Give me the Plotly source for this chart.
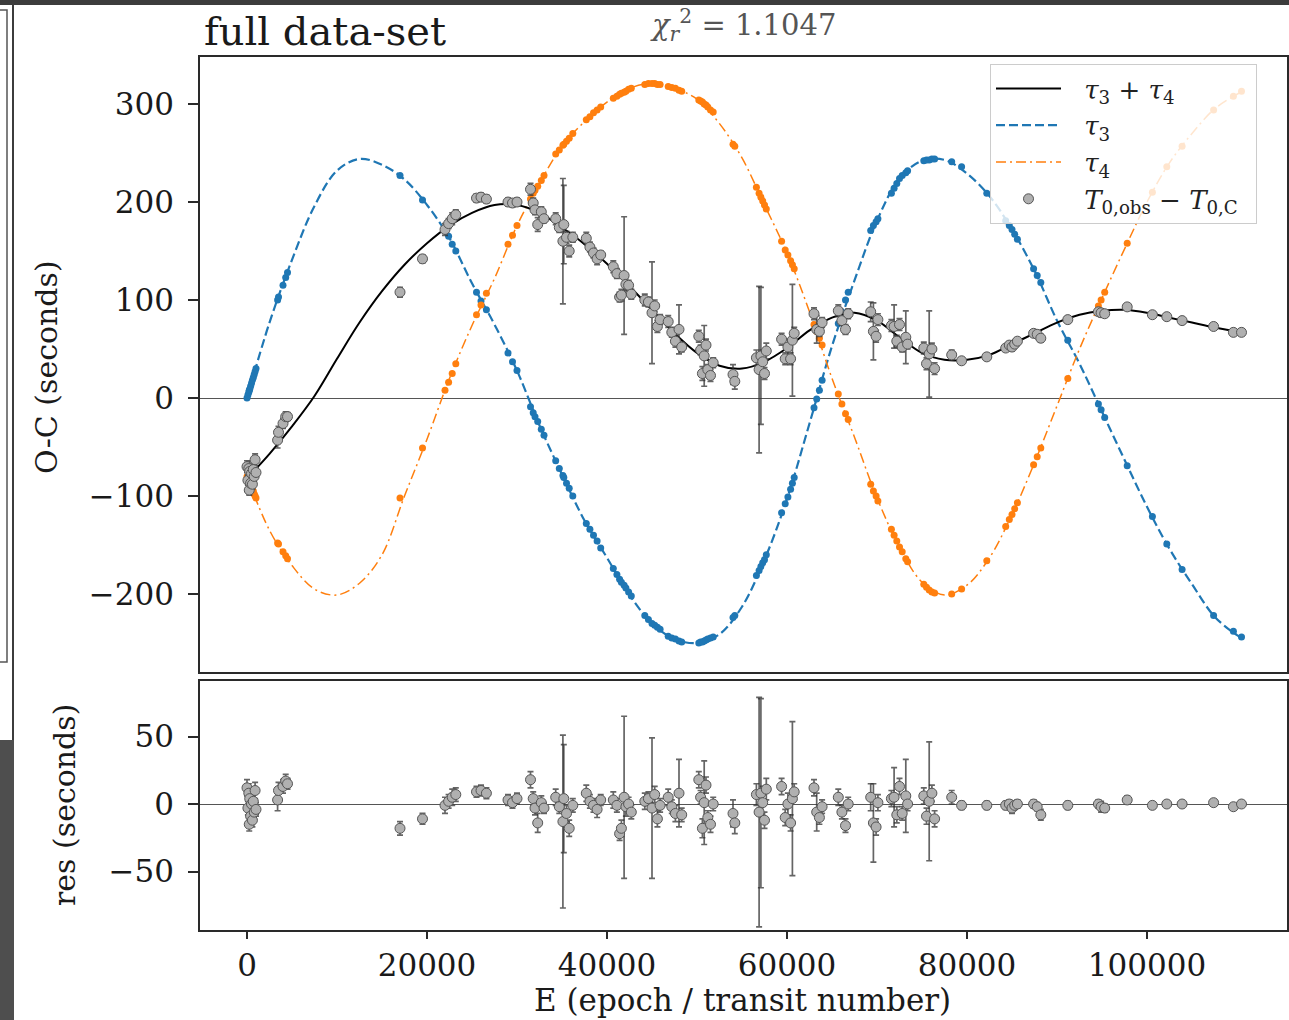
import plotly.graph_objects as go

# ---------------- data ----------------
grid_E = [0, 2500, 5000, 7500, 10000, 12500, 15000, 17500, 20000, 22500, 25000, 27500,
          30000, 32500, 35000, 37500, 40000, 42500, 45000, 47500, 50000, 52500, 55000,
          57500, 60000, 62500, 65000, 67500, 70000, 72500, 75000, 77500, 80000, 82500,
          85000, 87500, 90000, 92500, 95000, 97500, 100000, 102500, 105000, 107500,
          110000, 110800]
tau3_curve = [0, 77, 141, 196, 232, 244, 238, 223, 197, 163, 117, 75,
              28, -28, -78, -125, -163, -201, -230, -246, -250, -241, -213,
              -165, -103, -26, 53, 120, 181, 224, 242, 243, 229, 206,
              172, 130, 79, 35, -14, -63, -111, -154, -190, -223,
              -242, -246]
tau4_curve = [-80, -135, -171, -195, -201, -189, -160, -100, -42, 20, 74, 122,
              176, 219, 257, 282, 302, 316, 321, 316, 305, 280, 245,
              197, 148, 88, 20, -40, -102, -152, -188, -201, -191, -163,
              -119, -66, -8, 50, 102, 152, 200, 240, 270, 295,
              310, 314]
sum_curve = [-82, -57, -29, 2, 40, 77, 109, 136, 158, 176, 189, 197,
             197, 189, 174, 157, 137, 114, 90, 66, 46, 33, 30,
             37, 51, 69, 82, 87, 79, 62, 46, 39, 39, 44,
             55, 66, 77, 85, 89, 90, 87, 82, 77, 72,
             68, 67]

obs_E = [0, 100, 200, 250, 300, 400, 500, 600, 700, 800, 900, 1000,
         3400, 3500, 4000, 4300, 4500, 17000, 19500,
         22000, 22400, 22800, 23200, 25500, 26000, 26600, 29000, 29500, 30000,
         31500, 31800, 32000, 32300, 32700, 33000,
         34300, 34700, 35100, 35200, 35500, 35800, 36200,
         37700, 38100, 38500, 38900, 39300,
         40700, 41100, 41400, 41600, 41900, 42100, 42400, 42700,
         44200, 44600, 45000, 45300, 45600, 45900,
         46800, 47200, 47600, 48000, 48300,
         50200, 50400, 50600, 50800, 51000, 51200, 51500, 51800,
         54000, 54200,
         56600, 56900, 57100, 57300, 57500, 57700,
         59400, 59800, 60100, 60400, 60600, 60800,
         63000, 63300, 63600, 63900,
         65700, 66100, 66500, 66800,
         69300, 69600, 69900, 70100,
         71600, 71900, 72200, 72500, 72800, 73200, 73400,
         75200, 75500, 75800, 76100, 76400,
         78300, 79400, 82200, 84300, 84700, 85000, 85300, 85600,
         87400, 87800, 88200, 91200, 94600, 94900, 95300, 97800,
         100600, 102200, 103900, 107400, 109600, 110500]
obs_oc = [-70, -84, -72, -94, -75, -87, -77, -88, -73, -80, -63, -76,
          -43, -35, -26, -19, -19, 108, 142,
          172, 178, 183, 187, 204, 205, 203, 200, 199, 200,
          213, 199, 192, 177, 190, 183,
          183, 174, 160, 177, 164, 150, 164,
          163, 154, 148, 142, 146,
          134, 127, 103, 105, 125, 116, 115, 106,
          100, 98, 87, 94, 73, 80,
          78, 67, 58, 70, 52,
          63, 49, 25, 43, 54, 29, 23, 36,
          24, 17,
          41, 29, 43, 37, 25, 48,
          60, 40, 52, 40, 59, 66,
          86, 70, 68, 77,
          89, 79, 70, 86,
          88, 68, 63, 80,
          74, 73, 58, 75, 52, 62, 55,
          51, 35, 45, 50, 30,
          44, 38, 42, 51, 54, 52, 55, 58,
          66, 65, 61, 80, 88, 87, 86, 93,
          85, 83, 79, 73, 67, 67]
obs_err = [6, 5, 7, 5, 6, 5, 8, 5, 6, 5, 6, 5,
           8, 6, 5, 5, 4, 5, 4,
           6, 5, 6, 5, 4, 4, 4, 4, 4, 4,
           6, 5, 5, 7, 5, 4,
           6, 5, 64, 40, 6, 6, 5,
           6, 5, 5, 6, 4,
           6, 5, 5, 6, 60, 7, 5, 5,
           6, 5, 52, 6, 6, 5,
           6, 5, 6, 25, 5,
           6, 5, 7, 31, 6, 5, 6, 5,
           10, 8,
           8, 85, 70, 12, 6, 8,
           6, 6, 8, 6, 57, 6,
           6, 14, 5, 5,
           6, 5, 5, 5,
           10, 29, 6, 6,
           6, 22, 6, 6, 5, 27, 5,
           6, 6, 44, 6, 6,
           5, 3, 3, 3, 3, 4, 3, 3,
           3, 3, 4, 3, 3, 4, 3, 3,
           2, 2, 2, 2, 2, 2]
obs_res = [12, -3, 8, -15, 4, -9, 0, -12, 2, -6, 10, -4,
           3, 10, 13, 17, 15, -18, -11,
           -1, 2, 5, 7, 9, 10, 8, 3, 1, 4,
           18, 4, -3, -14, 1, -3,
           5, -2, -13, 4, -7, -18, -1,
           8, 2, -1, -4, 3,
           3, -1, -22, -18, 5, -2, 0, -6,
           2, 4, -3, 7, -11, -1,
           5, -2, -7, 8, -8,
           18, 5, -18, 1, 14, -10, -15, 0,
           -7, -14,
           7, -6, 8, 1, -12, 11,
           13, -10, 0, -14, 4, 9,
           12, -6, -10, -2,
           5, -6, -16, 0,
           5, -14, -17, 1,
           4, 5, -8, 13, -7, 6, 0,
           6, -9, 2, 8, -11,
           5, -1, -1, -1, 0, -3, -1, 0,
           0, -2, -8, -1, 0, -2, -3, 3,
           -1, 0, 0, 1, -2, 0]
tau3_obs = [0, 3, 6, 8, 9, 12, 15, 18, 21, 24, 27, 30,
            100, 103, 115, 123, 128, 227, 202,
            172, 165, 157, 150, 108, 99, 90, 46, 37, 28,
            -9, -15, -19, -24, -32, -38,
            -64, -72, -79, -81, -87, -92, -100,
            -128, -134, -140, -146, -153,
            -174, -180, -185, -188, -191, -194, -198, -202,
            -222, -226, -230, -232, -234, -236,
            -243, -245, -246, -248, -249,
            -250, -249, -249, -248, -247, -246, -245, -244,
            -224, -222,
            -181, -176, -172, -168, -165, -160,
            -117, -108, -101, -93, -87, -81,
            -10, -1, 8, 18,
            76, 88, 100, 108,
            171, 176, 180, 183,
            209, 214, 219, 224, 227, 230, 232,
            242, 243, 243, 244, 244,
            241, 236, 209, 181, 176, 172, 167, 162,
            132, 125, 118, 59, -6, -12, -20, -69,
            -121, -149, -175, -222, -238, -244]
tau4_obs = [-80, -82, -84, -86, -87, -89, -91, -93, -95, -98, -100, -102,
            -148, -149, -157, -161, -164, -102, -51,
            8, 16, 25, 35, 85, 95, 107, 157, 166, 176,
            203, 209, 212, 216, 222, 227,
            249, 253, 258, 259, 262, 265, 270,
            284, 287, 291, 294, 297,
            306, 308, 310, 311, 312, 313, 315, 316,
            320, 321, 321, 321, 320, 320,
            318, 317, 316, 314, 313,
            304, 303, 302, 300, 299, 297, 294, 292,
            259, 257,
            215, 209, 205, 201, 197, 193,
            160, 151, 146, 140, 136, 132,
            75, 68, 61, 54,
            4, -6, -16, -22,
            -88, -95, -100, -105,
            -134, -140, -146, -152, -157, -164, -167,
            -190, -193, -196, -198, -199,
            -200, -195, -166, -131, -124, -119, -113, -107,
            -68, -60, -51, 20, 94, 100, 108, 158,
            210, 236, 257, 294, 308, 313]

x_ticks = [0, 20000, 40000, 60000, 80000, 100000]
y_ticks_top = [-200, -100, 0, 100, 200, 300]
y_ticks_bot = [-50, 0, 50]

# ---------------- styling / layout ----------------
W, H = 1289, 1020
FONT = "DejaVu Serif"
BLUE = "#1f77b4"
ORANGE = "#ff7f0e"
SPINE = "#2a2a2a"
GAP = "\u2002\u2009"   # extra gap between legend sample and its text


def px(x):
    return x / W


def py(y):
    return 1 - y / H


x_left, x_right = 200, 1287
E0_px, E_scale = 247, 0.009
x_range = [(x_left - E0_px) / E_scale, (x_right - E0_px) / E_scale]

fig = go.Figure()

# tau3 curve + points
fig.add_trace(go.Scatter(x=grid_E, y=tau3_curve, mode="lines", xaxis="x", yaxis="y",
                         line=dict(color=BLUE, width=2.2, dash="9px,4px", shape="spline"),
                         name=GAP + "<i>τ</i><sub>3</sub>", legendrank=2))
fig.add_trace(go.Scatter(x=obs_E, y=tau3_obs, mode="markers", xaxis="x", yaxis="y",
                         marker=dict(color=BLUE, size=7), showlegend=False, hoverinfo="skip"))
# tau4 curve + points
fig.add_trace(go.Scatter(x=grid_E, y=tau4_curve, mode="lines", xaxis="x", yaxis="y",
                         line=dict(color=ORANGE, width=1.5, dash="10px,4px,2px,4px", shape="spline"),
                         name=GAP + "<i>τ</i><sub>4</sub>", legendrank=3))
fig.add_trace(go.Scatter(x=obs_E, y=tau4_obs, mode="markers", xaxis="x", yaxis="y",
                         marker=dict(color=ORANGE, size=7), showlegend=False, hoverinfo="skip"))
# sum curve
fig.add_trace(go.Scatter(x=grid_E, y=sum_curve, mode="lines", xaxis="x", yaxis="y",
                         line=dict(color="black", width=2, shape="spline", smoothing=1.0),
                         name=GAP + "<i>τ</i><sub>3</sub> + <i>τ</i><sub>4</sub>", legendrank=1))

marker_style = dict(color="#b0b0b0", size=10, line=dict(color="#555555", width=1))
err_style = dict(type="data", visible=True, color="rgba(50,50,50,0.75)", thickness=1.7, width=3)

fig.add_trace(go.Scatter(x=obs_E, y=obs_oc, mode="markers", xaxis="x", yaxis="y",
                         error_y=dict(array=obs_err, **err_style), marker=marker_style,
                         name=GAP + "<i>T</i><sub>0,obs</sub> − <i>T</i><sub>0,C</sub>\u2002",
                         legendrank=4))
fig.add_trace(go.Scatter(x=obs_E, y=obs_res, mode="markers", xaxis="x2", yaxis="y2",
                         error_y=dict(array=obs_err, **err_style), marker=marker_style,
                         showlegend=False))

tickfont = dict(family=FONT, size=31, color="#1a1a1a")
common_axis = dict(showline=True, mirror=True, linecolor=SPINE, linewidth=1.6,
                   showgrid=False)

fig.update_layout(
    width=W, height=H,
    margin=dict(l=0, r=0, t=0, b=0),
    paper_bgcolor="white", plot_bgcolor="white",
    showlegend=True,
    xaxis=dict(domain=[px(x_left), px(x_right)], anchor="y", range=x_range,
               showticklabels=False, ticks="", zeroline=False, matches="x2", **common_axis),
    yaxis=dict(domain=[py(672), py(57)], anchor="x", range=[-279.6, 348],
               tickvals=y_ticks_top, ticks="outside", ticklen=10, tickwidth=1.5,
               tickcolor=SPINE, tickfont=tickfont, ticklabelstandoff=8,
               zeroline=True, zerolinecolor="#555", zerolinewidth=1.2, **common_axis),
    xaxis2=dict(domain=[px(x_left), px(x_right)], anchor="y2", range=x_range,
                tickvals=x_ticks, ticktext=[str(v) for v in x_ticks],
                ticks="outside", ticklen=7, tickwidth=1.5, tickcolor=SPINE,
                tickfont=tickfont, zeroline=False, **common_axis),
    yaxis2=dict(domain=[py(930), py(681)], anchor="x2", range=[-93.3, 91.1],
                tickvals=y_ticks_bot, ticks="outside", ticklen=10, tickwidth=1.5,
                tickcolor=SPINE, tickfont=tickfont, ticklabelstandoff=8,
                zeroline=True, zerolinecolor="#555", zerolinewidth=1.2, **common_axis),
    legend=dict(x=px(990), y=py(64), xanchor="left", yanchor="top",
                bgcolor="rgba(255,255,255,0.8)", bordercolor="#cccccc", borderwidth=1,
                font=dict(family=FONT, size=26, color="#222"), itemwidth=65,
                tracegroupgap=0),
)

annotations = [
    dict(text="full data-set", x=px(202), y=py(31), xanchor="left", yanchor="middle",
         font=dict(family=FONT, size=40, color="#1a1a1a")),
    dict(text="<i>χ</i><sub><i>r</i></sub><sup>2</sup> = 1.1047", x=px(648), y=py(25),
         xanchor="left", yanchor="middle", font=dict(family=FONT, size=29, color="#555")),
    dict(text="O-C (seconds)", x=px(46), y=py(367), xanchor="center", yanchor="middle",
         textangle=-90, font=dict(family=FONT, size=30, color="#1a1a1a")),
    dict(text="res (seconds)", x=px(64), y=py(805), xanchor="center", yanchor="middle",
         textangle=-90, font=dict(family=FONT, size=30, color="#1a1a1a")),
    dict(text="E (epoch / transit number)", x=px(742), y=py(1000), xanchor="center",
         yanchor="middle", font=dict(family=FONT, size=31, color="#1a1a1a")),
]
for a in annotations:
    a.update(xref="paper", yref="paper", showarrow=False)
fig.update_layout(annotations=annotations)

# screenshot frame artefacts around the figure
shapes = [
    dict(type="rect", x0=0, x1=1, y0=py(5), y1=1, fillcolor="#3c3c3c", line_width=0),
    dict(type="rect", x0=0, x1=px(14), y0=0, y1=py(740), fillcolor="#4e4e4e", line_width=0),
    dict(type="rect", x0=px(12), x1=px(14), y0=py(740), y1=py(5), fillcolor="#3c3c3c",
         line_width=0),
    dict(type="rect", x0=px(-5), x1=px(7), y0=py(662), y1=py(10), fillcolor="rgba(0,0,0,0)",
         line=dict(color="#555", width=1.5)),
]
for s in shapes:
    s.update(xref="paper", yref="paper", layer="above")
fig.update_layout(shapes=shapes)

fig.write_html("out.html")
